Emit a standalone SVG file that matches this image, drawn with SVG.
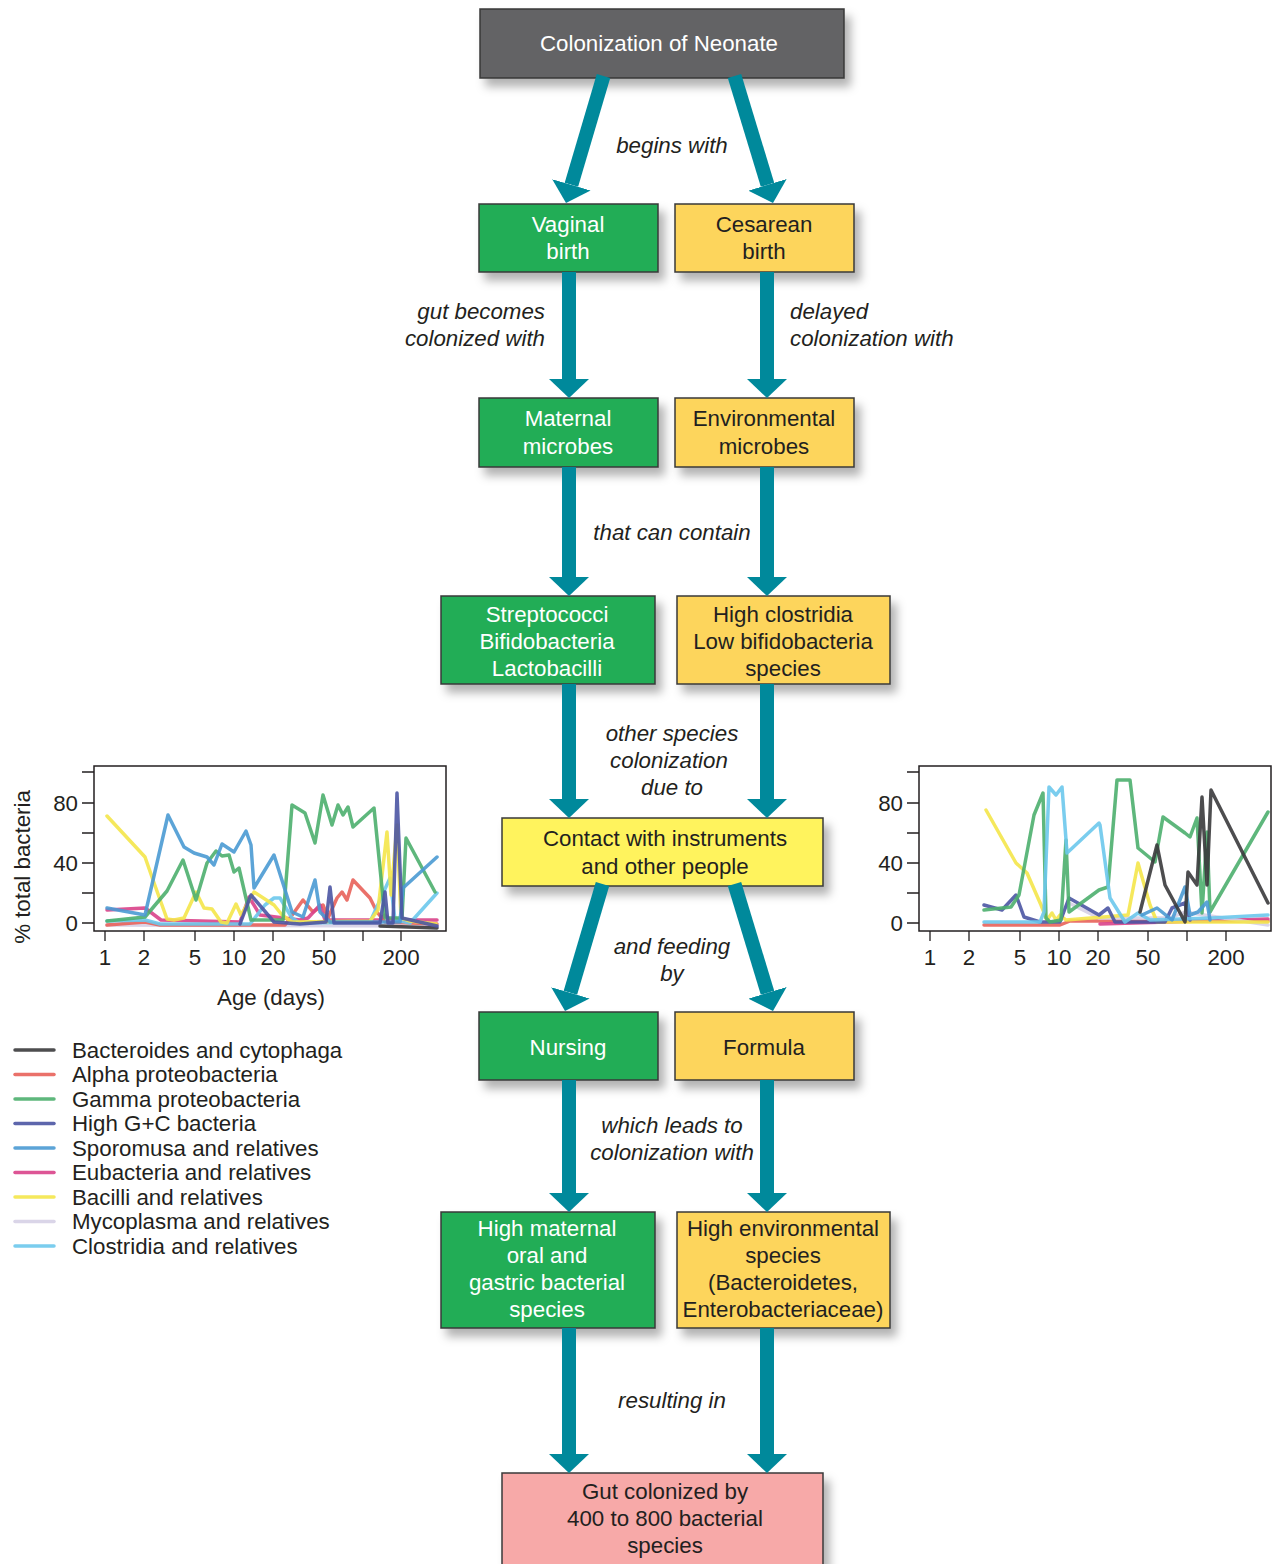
<svg xmlns="http://www.w3.org/2000/svg" width="1276" height="1564" viewBox="0 0 1276 1564">
<style>
text{font-family:"Liberation Sans",Arial,sans-serif;font-size:22.3px;fill:#231f20}
.node rect{stroke:#383838;stroke-width:1.5}
.w{fill:#fff}
.lbl{font-style:italic}
.c{text-anchor:middle}
.conn line{stroke:#00899b;stroke-width:14}
.frame{fill:#fff;stroke:#231f20;stroke-width:1.5}
.tick{stroke:#231f20;stroke-width:1.3}
.d{fill:none;stroke-width:3.5;stroke-linejoin:round;stroke-linecap:round;opacity:.9}
.k{stroke:#3a3a3c}.r{stroke:#e8625a}.g{stroke:#4caf6e}.b{stroke:#4b55a3}.s{stroke:#4a9ad3}.m{stroke:#d9428a}.y{stroke:#f4e64a}.l{stroke:#d6d0e6}.cy{stroke:#6cc8ec}
.green{fill:#24ad56}.orange{fill:#fdd55b}.gray{fill:#636365}.yel{fill:#fff35d}.pink{fill:#f7a9a8}
</style>
<defs>
<filter id="sh" x="-10%" y="-20%" width="130%" height="160%">
<feDropShadow dx="6" dy="8" stdDeviation="5" flood-color="#000" flood-opacity="0.3"/>
</filter>
<marker id="ah" markerUnits="userSpaceOnUse" viewBox="0 0 19 40" refX="0" refY="20" markerWidth="19" markerHeight="40" orient="auto">
<path d="M0,0 L19,20 L0,40 Z" fill="#00899b"/>
</marker>
<clipPath id="cl"><rect x="95" y="766" width="351" height="165"/></clipPath>
<clipPath id="cr"><rect x="920" y="766" width="350" height="165"/></clipPath>
</defs>

<g id="n-top" class="node"><rect class="gray" x="480" y="9" width="364" height="69" filter="url(#sh)"/><text class="c w" x="659" y="51">Colonization of Neonate</text></g>
<g id="n-vaginal" class="node"><rect class="green" x="479" y="204" width="179" height="68" filter="url(#sh)"/><text class="c w" x="568" y="232">Vaginal</text><text class="c w" x="568" y="259">birth</text></g>
<g id="n-cesarean" class="node"><rect class="orange" x="675" y="204" width="179" height="68" filter="url(#sh)"/><text class="c" x="764" y="232">Cesarean</text><text class="c" x="764" y="259">birth</text></g>
<g id="n-maternal" class="node"><rect class="green" x="479" y="398" width="179" height="69" filter="url(#sh)"/><text class="c w" x="568" y="426">Maternal</text><text class="c w" x="568" y="454">microbes</text></g>
<g id="n-environmental" class="node"><rect class="orange" x="675" y="398" width="179" height="69" filter="url(#sh)"/><text class="c" x="764" y="426">Environmental</text><text class="c" x="764" y="454">microbes</text></g>
<g id="n-strep" class="node"><rect class="green" x="441" y="596" width="214" height="88" filter="url(#sh)"/><text class="c w" x="547" y="622">Streptococci</text><text class="c w" x="547" y="649">Bifidobacteria</text><text class="c w" x="547" y="676">Lactobacilli</text></g>
<g id="n-clostridia" class="node"><rect class="orange" x="677" y="596" width="213" height="88" filter="url(#sh)"/><text class="c" x="783" y="622">High clostridia</text><text class="c" x="783" y="649">Low bifidobacteria</text><text class="c" x="783" y="676">species</text></g>
<g id="n-contact" class="node"><rect class="yel" x="502" y="818" width="321" height="68" filter="url(#sh)"/><text class="c" x="665" y="846">Contact with instruments</text><text class="c" x="665" y="874">and other people</text></g>
<g id="n-nursing" class="node"><rect class="green" x="479" y="1012" width="179" height="68" filter="url(#sh)"/><text class="c w" x="568" y="1055">Nursing</text></g>
<g id="n-formula" class="node"><rect class="orange" x="675" y="1012" width="179" height="68" filter="url(#sh)"/><text class="c" x="764" y="1055">Formula</text></g>
<g id="n-highmaternal" class="node"><rect class="green" x="441" y="1212" width="214" height="116" filter="url(#sh)"/><text class="c w" x="547" y="1236">High maternal</text><text class="c w" x="547" y="1263">oral and</text><text class="c w" x="547" y="1290">gastric bacterial</text><text class="c w" x="547" y="1317">species</text></g>
<g id="n-highenv" class="node"><rect class="orange" x="677" y="1212" width="213" height="116" filter="url(#sh)"/><text class="c" x="783" y="1236">High environmental</text><text class="c" x="783" y="1263">species</text><text class="c" x="783" y="1290">(Bacteroidetes,</text><text class="c" x="783" y="1317">Enterobacteriaceae)</text></g>
<g id="n-gut" class="node"><rect class="pink" x="502" y="1473" width="321" height="110" filter="url(#sh)"/><text class="c" x="665" y="1499">Gut colonized by</text><text class="c" x="665" y="1526">400 to 800 bacterial</text><text class="c" x="665" y="1553">species</text></g>

<g id="connectors" class="conn">
<line x1="603.5" y1="76" x2="571.4" y2="184.8" marker-end="url(#ah)"/>
<line x1="734.5" y1="76" x2="767.5" y2="184.8" marker-end="url(#ah)"/>
<line x1="569" y1="272" x2="569" y2="379" marker-end="url(#ah)"/>
<line x1="767" y1="272" x2="767" y2="379" marker-end="url(#ah)"/>
<line x1="569" y1="467" x2="569" y2="577" marker-end="url(#ah)"/>
<line x1="767" y1="467" x2="767" y2="577" marker-end="url(#ah)"/>
<line x1="569" y1="684" x2="569" y2="799" marker-end="url(#ah)"/>
<line x1="767" y1="684" x2="767" y2="799" marker-end="url(#ah)"/>
<line x1="602.5" y1="884" x2="570.4" y2="992.8" marker-end="url(#ah)"/>
<line x1="734.5" y1="884" x2="767.5" y2="992.8" marker-end="url(#ah)"/>
<line x1="569" y1="1080" x2="569" y2="1193" marker-end="url(#ah)"/>
<line x1="767" y1="1080" x2="767" y2="1193" marker-end="url(#ah)"/>
<line x1="569" y1="1328" x2="569" y2="1454" marker-end="url(#ah)"/>
<line x1="767" y1="1328" x2="767" y2="1454" marker-end="url(#ah)"/>
</g>

<g id="labels" class="lbl">
<text class="c lbl" x="672" y="153">begins with</text>
<text class="lbl" x="545" y="319" text-anchor="end">gut becomes</text>
<text class="lbl" x="545" y="346" text-anchor="end">colonized with</text>
<text class="lbl" x="790" y="319">delayed</text>
<text class="lbl" x="790" y="346">colonization with</text>
<text class="c lbl" x="672" y="540">that can contain</text>
<text class="c lbl" x="672" y="741">other species</text>
<text class="c lbl" x="669" y="768">colonization</text>
<text class="c lbl" x="672" y="795">due to</text>
<text class="c lbl" x="672" y="954">and feeding</text>
<text class="c lbl" x="672" y="981">by</text>
<text class="c lbl" x="672" y="1133">which leads to</text>
<text class="c lbl" x="672" y="1160">colonization with</text>
<text class="c lbl" x="672" y="1408">resulting in</text>
</g>

<g id="chart-left">
<rect class="frame" x="94" y="766" width="352" height="165"/>
<path class="tick" d="M82,772H94M82,803H94M82,833H94M82,863H94M82,893H94M82,923H94M105,931V941M144,931V941M195,931V941M234,931V941M273,931V941M324,931V941M363,931V941M401,931V941"/>
<text x="78" y="811" text-anchor="end">80</text>
<text x="78" y="871" text-anchor="end">40</text>
<text x="78" y="931" text-anchor="end">0</text>
<text class="c" x="105" y="965">1</text><text class="c" x="144" y="965">2</text><text class="c" x="195" y="965">5</text><text class="c" x="234" y="965">10</text><text class="c" x="273" y="965">20</text><text class="c" x="324" y="965">50</text><text class="c" x="401" y="965">200</text>
<text class="c" x="271" y="1005">Age (days)</text>
<text class="c" transform="translate(30,867) rotate(-90)">% total bacteria</text>
<g clip-path="url(#cl)">
<polyline class="d l" points="107,925 437,926"/>
<polyline class="d k" points="380,926 437,928"/>
<polyline class="d r" points="107,925 145,922 160,925 285,925 303,900 313,912 323,905 328,918 337,898 342,892 347,900 353,880 370,898 377,912 385,922 437,924"/>
<polyline class="d m" points="107,910 145,908 161,920 240,922 249,897 260,915 300,920 308,918 320,905 325,920 380,920 385,915 390,920 437,920"/>
<polyline class="d cy" points="107,921 145,920 160,924 250,924 265,905 274,898 280,898 292,918 300,923 370,922 390,878 395,920 410,923 437,893"/>
<polyline class="d y" points="107,816 145,857 153,880 167,919 174,920 184,918 196,892 204,908 212,909 221,922 227,923 236,904 241,915 254,892 274,905 282,915 292,922 370,921 378,910 387,832 391,895 397,825 401,918 410,921 436,924"/>
<polyline class="d g" points="107,921 145,917 167,891 183,860 196,900 207,863 216,851 222,856 229,855 234,872 239,868 251,920 274,920 283,920 292,805 305,813 315,843 323,795 332,825 338,805 343,815 348,807 353,827 374,808 380,868 385,918 402,918 406,838 435,892"/>
<polyline class="d s" points="107,908 145,915 168,815 184,847 194,853 207,857 214,865 222,844 234,852 246,831 251,845 254,888 274,855 292,912 303,917 315,880 320,912 330,922 400,922 403,888 437,857"/>
<polyline class="d b" points="240,924 251,895 274,922 300,924 326,922 330,887 334,923 380,923 385,892 388,923 393,923 397,793 402,918 437,926"/>
</g>
</g>

<g id="chart-right">
<rect class="frame" x="919" y="766" width="352" height="165"/>
<path class="tick" d="M907,772H919M907,803H919M907,833H919M907,863H919M907,893H919M907,923H919M930,931V941M969,931V941M1020,931V941M1059,931V941M1098,931V941M1148,931V941M1187,931V941M1226,931V941"/>
<text x="903" y="811" text-anchor="end">80</text>
<text x="903" y="871" text-anchor="end">40</text>
<text x="903" y="931" text-anchor="end">0</text>
<text class="c" x="930" y="965">1</text><text class="c" x="969" y="965">2</text><text class="c" x="1020" y="965">5</text><text class="c" x="1059" y="965">10</text><text class="c" x="1098" y="965">20</text><text class="c" x="1148" y="965">50</text><text class="c" x="1226" y="965">200</text>
<g clip-path="url(#cr)">
<polyline class="d r" points="984,925 1060,925 1070,921 1268,921"/>
<polyline class="d m" points="1100,924 1268,919"/>
<polyline class="d l" points="1069,903 1099,918 1170,918 1185,912 1268,925"/>
<polyline class="d y" points="986,810 1016,863 1027,873 1041,905 1047,920 1052,913 1056,920 1060,915 1066,920 1128,915 1138,863 1150,905 1157,922 1268,922"/>
<polyline class="d b" points="984,905 1002,910 1016,895 1024,917 1040,922 1060,922 1069,898 1099,915 1108,908 1115,922 1165,922 1172,908 1185,903 1190,920"/>
<polyline class="d g" points="984,910 1011,907 1019,895 1034,815 1043,793 1046,918 1050,922 1061,920 1066,840 1069,912 1099,890 1108,887 1117,780 1130,780 1138,848 1155,862 1163,817 1185,833 1190,837 1197,818 1202,913 1207,832 1210,912 1268,812"/>
<polyline class="d cy" points="984,922 1040,922 1044,912 1049,787 1056,795 1062,787 1067,853 1099,823 1100,825 1110,898 1125,922 1138,913 1150,920 1212,918 1268,915"/>
<polyline class="d s" points="1142,915 1157,908 1172,920 1185,887 1190,915 1198,912 1207,902 1210,920"/>
<polyline class="d k" points="1140,912 1157,845 1165,885 1185,922 1188,872 1197,885 1202,797 1207,885 1211,790 1268,903"/>
</g>
</g>

<g id="legend">
<path class="d k" d="M15,1050H54"/><text x="72" y="1057.5">Bacteroides and cytophaga</text>
<path class="d r" d="M15,1074.5H54"/><text x="72" y="1082">Alpha proteobacteria</text>
<path class="d g" d="M15,1099H54"/><text x="72" y="1106.5">Gamma proteobacteria</text>
<path class="d b" d="M15,1123.5H54"/><text x="72" y="1131">High G+C bacteria</text>
<path class="d s" d="M15,1148H54"/><text x="72" y="1155.5">Sporomusa and relatives</text>
<path class="d m" d="M15,1172.5H54"/><text x="72" y="1180">Eubacteria and relatives</text>
<path class="d y" d="M15,1197H54"/><text x="72" y="1204.5">Bacilli and relatives</text>
<path class="d l" d="M15,1221.5H54"/><text x="72" y="1229">Mycoplasma and relatives</text>
<path class="d cy" d="M15,1246H54"/><text x="72" y="1253.5">Clostridia and relatives</text>
</g>
</svg>
